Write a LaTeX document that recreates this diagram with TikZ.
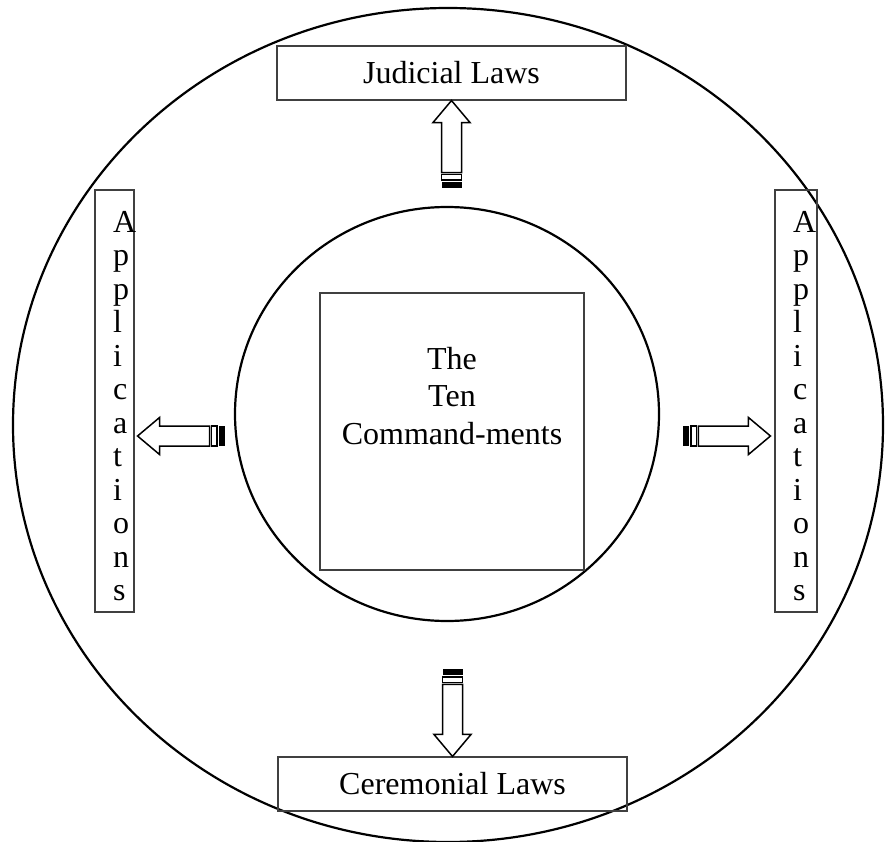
\documentclass[tikz,border=0pt]{standalone}
\usepackage{fontspec}
\setmainfont{Liberation Serif}
\begin{document}
\begin{tikzpicture}[x=1pt,y=-1pt,
  box/.style={draw=black!75, line width=1.1pt, inner sep=0pt, font=\fontsize{32}{37}\selectfont},
  ring/.style={draw=black, line width=2.2pt},
  txt/.style={inner sep=0pt, font=\fontsize{32}{37.5}\selectfont},
  vtxt/.style={inner sep=0pt, align=left, font=\fontsize{32}{33.5}\selectfont},
  stripedarrow/.pic={
    \draw[line width=1.5pt, line join=miter, fill=white] (0,0) -- (-22,18.5) -- (-22,10) -- (-72,10) -- (-72,-10) -- (-22,-10) -- (-22,-18.5) -- cycle;
    \draw[line width=1.5pt, fill=white] (-79.5,-10) rectangle (-74,10);
    \fill[black] (-87,-10) rectangle (-81.5,10);
  }]
\useasboundingbox (0,0) rectangle (891,842);
% rings
\draw[ring] (448,425) ellipse [x radius=435, y radius=417];
\draw[ring] (447,414) ellipse [x radius=212, y radius=207];
% boxes
\node[box, minimum width=349pt, minimum height=54pt] (jud) at (451.5,73) {Judicial Laws};
\node[box, minimum width=349pt, minimum height=54pt] (cer) at (452.5,784) {Ceremonial Laws};
\node[box, minimum width=39pt, minimum height=422pt] (appL) at (114.5,401) {};
\node[box, minimum width=42pt, minimum height=422pt] (appR) at (796,401) {};
\node[box, minimum width=264pt, minimum height=277pt] (tc) at (452,431.5) {};
% texts
\node[txt, align=center, anchor=north] (tctext) at (452,347) {The\\Ten\\Command-ments};
\node[vtxt, anchor=north west] (appLt) at (113,211) {A\\p\\p\\l\\i\\c\\a\\t\\i\\o\\n\\s};
\node[vtxt, anchor=north west] (appRt) at (793,211) {A\\p\\p\\l\\i\\c\\a\\t\\i\\o\\n\\s};
% arrows
\path (appR.west) ++(-4,35) coordinate (rtip);
\path (appL.east) ++(3,35) coordinate (ltip);
\pic[rotate=0] at (rtip) {stripedarrow};
\pic[rotate=180] at (ltip) {stripedarrow};
\pic[rotate=90] at (jud.south) {stripedarrow};
\pic[rotate=-90] at (cer.north) {stripedarrow};
\end{tikzpicture}
\end{document}
